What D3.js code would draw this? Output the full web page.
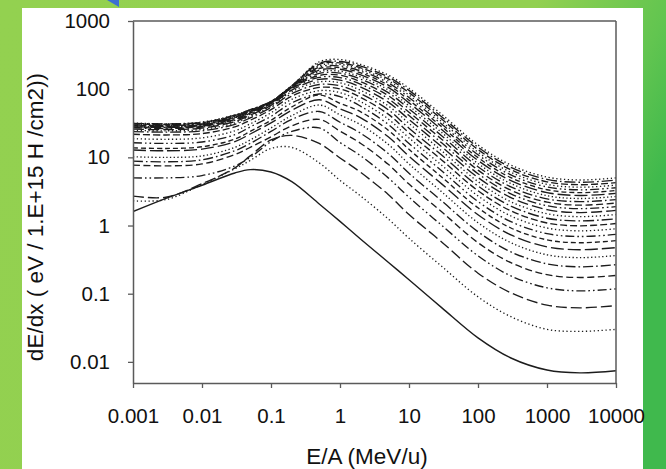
<!DOCTYPE html>
<html><head><meta charset="utf-8">
<script src="https://cdn.jsdelivr.net/npm/d3@7"></script>
<style>html,body{margin:0;padding:0;background:#fff;}svg{display:block;}</style>
</head><body>
<svg id="chart" width="666" height="469"></svg>
<script>
// ---- data ----
const energy = [0.001, 0.003, 0.01, 0.03, 0.05, 0.1, 0.2, 0.5, 1, 2, 5, 10, 30, 100, 300, 1000, 3000, 10000];
const sH  = [1.6, 2.5, 3.9, 5.9, 6.6, 6.1, 4.4, 2.07, 1.15, 0.63, 0.29, 0.16, 0.062, 0.0225, 0.0114, 0.0076, 0.0069, 0.0074];
const sHe = [2.3, 2.4, 4.0, 6.8, 9.0, 13.5, 14.0, 8.3, 4.6, 2.7, 1.25, 0.65, 0.25, 0.09, 0.046, 0.030, 0.028, 0.030];
const sLi = [2.7, 2.6, 4.1, 7.0, 10.5, 18, 21, 16, 9.8, 6.0, 2.85, 1.45, 0.57, 0.20, 0.103, 0.068, 0.062, 0.067];
const sBe = [5.0, 5.0, 5.4, 7.5, 10, 17, 24, 27, 16.5, 10.5, 5.0, 2.6, 1.0, 0.36, 0.182, 0.122, 0.110, 0.118];
const sB  = [7.7, 7.5, 8.0, 11, 14, 20, 29, 36, 24.2, 16.0, 7.9, 4.05, 1.58, 0.56, 0.285, 0.19, 0.173, 0.185];
const sC  = [8.8, 8.6, 9.2, 12.5, 16, 24, 36, 47, 32.7, 22.5, 11.4, 5.85, 2.28, 0.81, 0.41, 0.274, 0.248, 0.266];
const sN  = [10.2, 10.0, 10.5, 14, 18, 27, 41, 58.5, 42, 30, 15.5, 8.0, 3.1, 1.10, 0.56, 0.372, 0.338, 0.363];
const sO  = [12.8, 12.5, 13.2, 17, 22, 32, 49, 70, 51.5, 38, 20, 10.4, 4.05, 1.44, 0.73, 0.486, 0.442, 0.474];
const sF  = [13.8, 13.5, 14.3, 18.5, 24, 35, 55, 82, 62, 46.5, 25, 13.1, 5.1, 1.82, 0.92, 0.616, 0.559, 0.60];
const sNe = [16.4, 16.0, 16.8, 21.5, 28, 40, 63, 85, 78, 56, 30.5, 16.0, 6.3, 2.25, 1.14, 0.76, 0.69, 0.74];
const sNa = [18.8, 18.4, 19.3, 24.5, 31, 45, 71, 95, 89, 65.5, 36.5, 19.3, 7.6, 2.72, 1.38, 0.92, 0.835, 0.895];
const sMg = [21.8, 21.3, 22.3, 28, 35, 50, 79, 106, 101, 75.5, 43, 22.9, 9.1, 3.24, 1.64, 1.09, 0.99, 1.07];
const sAl = [23.9, 23.4, 24.5, 30.5, 38, 54, 86, 117, 112, 85.5, 50, 26.7, 10.7, 3.80, 1.93, 1.28, 1.17, 1.25];
const sSi = [25, 24.5, 25.7, 32, 40, 56, 92, 128, 124, 96, 57, 31.5, 12.4, 4.41, 2.23, 1.49, 1.35, 1.45];
const sP  = [26, 25.5, 26.8, 33.5, 41.5, 58, 97, 139, 136, 107, 64.5, 36, 14.2, 5.06, 2.57, 1.71, 1.55, 1.67];
const sS  = [27, 26.5, 27.8, 35, 43, 60, 102, 149, 148, 118, 72.5, 41, 16.2, 5.76, 2.92, 1.95, 1.77, 1.89];
const sCl = [27.5, 27, 28.4, 36, 44.5, 61.5, 104, 159, 160, 128, 80.5, 46, 18.3, 6.5, 3.29, 2.20, 1.99, 2.14];
const sAr = [28, 27.5, 29, 37, 45.5, 62.5, 106, 170, 172, 140, 89, 51.5, 20.6, 7.29, 3.69, 2.46, 2.24, 2.40];
const sK  = [28.5, 28, 29.5, 38, 46.5, 63.5, 107, 180, 183, 151, 97.5, 57, 23.0, 8.12, 4.12, 2.74, 2.49, 2.67];
const sCa = [29, 28.5, 30, 38.5, 47, 64, 108, 190, 196, 162, 106, 63, 25.4, 9.0, 4.56, 3.04, 2.76, 2.96];
const sSc = [29.5, 29, 30.5, 39, 48, 64.5, 109, 201, 207, 173, 115, 69, 28.0, 9.92, 5.03, 3.35, 3.04, 3.26];
const sTi = [30, 29.5, 31, 40, 48.5, 65, 110, 211, 219, 184, 124, 75.5, 30.5, 10.9, 5.52, 3.68, 3.34, 3.58];
const sV  = [30.5, 30, 31.5, 40.5, 49, 65.5, 111, 221, 231, 195, 133, 82, 33.3, 11.9, 6.03, 4.02, 3.65, 3.91];
const sCr = [31, 30.5, 32, 41, 49.5, 66, 112, 232, 243, 206, 142, 89, 36.2, 13.0, 6.57, 4.38, 3.97, 4.26];
const sMn = [31.5, 31, 32.5, 41.5, 50, 66, 112, 241, 255, 218, 151, 96, 39.2, 14.1, 7.13, 4.75, 4.31, 4.63];
const sFe = [32, 31, 33, 42, 50, 66, 112, 252, 272, 230, 161, 103, 42.5, 15.2, 7.71, 5.14, 4.66, 5.0];

const ionNames = ["H","He","Li","Be","B","C","N","O","F","Ne","Na","Mg","Al","Si","P","S","Cl","Ar","K","Ca","Sc","Ti","V","Cr","Mn","Fe"];
const ionValues = [sH,sHe,sLi,sBe,sB,sC,sN,sO,sF,sNe,sNa,sMg,sAl,sSi,sP,sS,sCl,sAr,sK,sCa,sSc,sTi,sV,sCr,sMn,sFe];

const xTicks = [0.001, 0.01, 0.1, 1, 10, 100, 1000, 10000];
const xTickLabels = ["0.001","0.01","0.1","1","10","100","1000","10000"];
const yTicks = [0.01, 0.1, 1, 10, 100, 1000];
const yTickLabels = ["0.01","0.1","1","10","100","1000"];
const xTitle = "E/A (MeV/u)";
const yTitle = "dE/dx ( eV / 1.E+15 H /cm2))";

// ---- drawing ----
const svg = d3.select("#chart");
const defs = svg.append("defs");
const bg = defs.append("linearGradient").attr("id","bg").attr("x1","0").attr("y1","0").attr("x2","1").attr("y2","0.35");
bg.append("stop").attr("offset","0").attr("stop-color","#93d150");
bg.append("stop").attr("offset","0.72").attr("stop-color","#92d050");
bg.append("stop").attr("offset","0.9").attr("stop-color","#62c550");
bg.append("stop").attr("offset","1").attr("stop-color","#40b94d");
svg.append("rect").attr("width",666).attr("height",469).attr("fill","url(#bg)");
svg.append("polygon").attr("points","107,0 119,0 119,7").attr("fill","#3d6fd2");
svg.append("rect").attr("x",22).attr("y",8).attr("width",621).attr("height",461).attr("fill","#ffffff");

const L = 133, R = 616, T = 21, B = 383;
const x = d3.scaleLog().domain([0.001, 10000]).range([L, R]);
const y = d3.scaleLog().domain([0.0049, 1000]).range([B, T]);

defs.append("clipPath").attr("id","clip").append("rect").attr("x",L).attr("y",T).attr("width",R-L).attr("height",B-T);

const dashes = [null, "1.3,2.6", "11,4", "9,3,1.6,3,1.6,3", "7,3.5", "10,3,1.6,3", "1.3,2.4", "13,4", "5,3", "9,3,1.6,3,1.6,3", "1.3,2.6", "7,3", "11,3,1.6,3"];

const line = d3.line().x((d,i)=>x(energy[i])).y(d=>y(d)).curve(d3.curveCatmullRom.alpha(0.5));
const g = svg.append("g").attr("clip-path","url(#clip)");
ionValues.forEach((vals, k) => {
  const da = k === 0 ? null : dashes[1 + ((k-1) % (dashes.length-1))];
  g.append("path").datum(vals).attr("d", line)
    .attr("fill","none").attr("stroke","#1c1c1c").attr("stroke-width", k===0?1.4:1.35)
    .attr("stroke-dasharray", da).attr("data-ion", ionNames[k]);
});

// frame
const frameColor = "#5a5a5a";
svg.append("line").attr("x1",L).attr("x2",R).attr("y1",T).attr("y2",T).attr("stroke",frameColor).attr("stroke-width",1.5);
svg.append("line").attr("x1",R).attr("x2",R).attr("y1",T).attr("y2",B).attr("stroke",frameColor).attr("stroke-width",1.5);

const font = "'Liberation Sans', Arial, Helvetica, sans-serif";
const xAxis = svg.append("g").attr("transform",`translate(0,${B})`)
  .call(d3.axisBottom(x).tickValues(xTicks).tickFormat((d,i)=>xTickLabels[i]).tickSize(5).tickSizeOuter(0).tickPadding(20));
const yAxis = svg.append("g").attr("transform",`translate(${L},0)`)
  .call(d3.axisLeft(y).tickValues(yTicks).tickFormat((d,i)=>yTickLabels[i]).tickSize(5).tickSizeOuter(0).tickPadding(18));
[xAxis, yAxis].forEach(a => {
  a.select(".domain").attr("stroke",frameColor).attr("stroke-width",1.5);
  a.selectAll(".tick line").attr("stroke",frameColor).attr("stroke-width",1.3);
  a.selectAll(".tick text").attr("font-family",font).attr("font-size",20.5).attr("fill","#111");
});

svg.append("text").attr("x",367).attr("y",464).attr("text-anchor","middle")
  .attr("font-family",font).attr("font-size",22.5).attr("fill","#111").text(xTitle);
svg.append("text").attr("transform","translate(43,217) rotate(-90)").attr("text-anchor","middle")
  .attr("font-family",font).attr("font-size",22.5).attr("fill","#111").text(yTitle);
</script>
</body></html>
